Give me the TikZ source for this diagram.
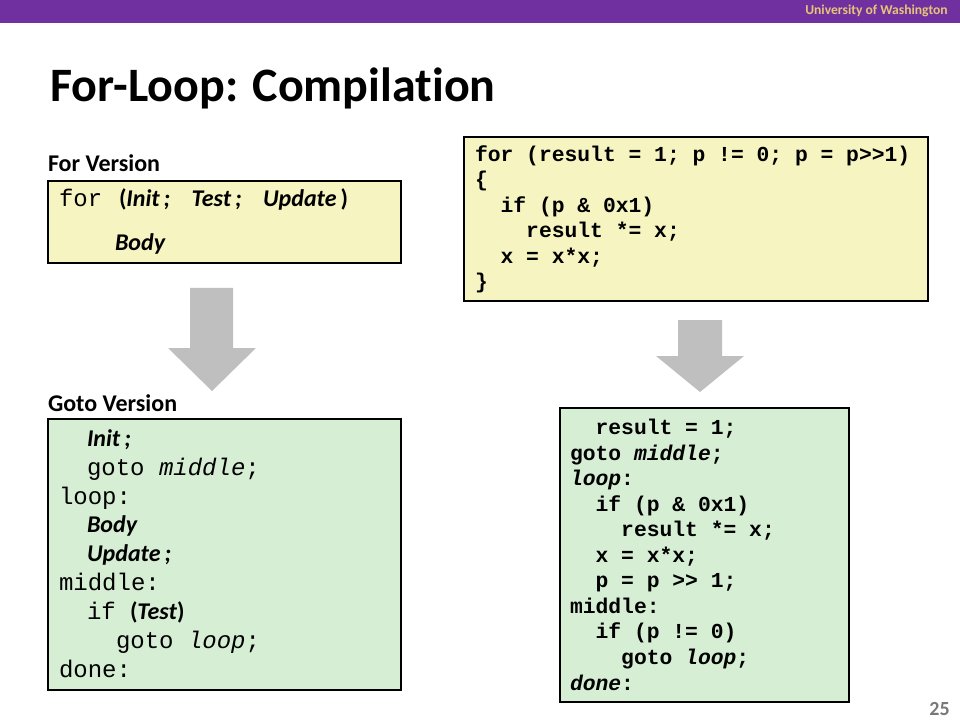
\documentclass[tikz,border=0pt]{standalone}
\usepackage{fontspec}
\setmainfont{Carlito}[Ligatures=NoCommon]
\newfontfamily\cour{Liberation Mono}
\definecolor{uwpurple}{RGB}{112,48,160}
\definecolor{uwgold}{RGB}{232,196,120}
\definecolor{codeyellow}{RGB}{246,244,192}
\definecolor{codegreen}{RGB}{214,238,212}
\definecolor{arrowgray}{RGB}{191,191,191}
\definecolor{pagegray}{RGB}{120,120,120}
\tikzset{
  txt/.style={anchor=base west, inner sep=0pt, outer sep=0pt},
  codeR/.style={txt, font=\cour\bfseries\fontsize{16}{16}\selectfont},
  codeL/.style={txt, font=\cour\fontsize{18}{18}\selectfont},
  calL/.style={txt, font=\bfseries\itshape\fontsize{18}{18}\selectfont},
  yellowbox/.style={fill=codeyellow, draw=black, line width=0.8pt},
  greenbox/.style={fill=codegreen, draw=black, line width=0.8pt},
  bigarrow/.style={fill=arrowgray, draw=none},
  heading/.style={txt, font=\bfseries\fontsize{18}{18}\selectfont}
}
\begin{document}
\begin{tikzpicture}[x=0.75pt,y=-0.75pt]
\useasboundingbox (0,0) rectangle (960,720);
\fill[white] (0,0) rectangle (960,720);
% header
\fill[uwpurple] (0,0) rectangle (960,23);
\node[anchor=base east, inner sep=0pt, text=uwgold, font=\bfseries\fontsize{10.2}{10.2}\selectfont] (uw) at (948,15) {University of Washington};
% title
\node[txt, font=\bfseries\fontsize{36}{36}\selectfont] (title) at (50,102) {For-Loop: Compilation};
% page number
\node[anchor=base east, inner sep=0pt, text=pagegray, font=\bfseries\fontsize{15}{15}\selectfont] (pg) at (950,715) {25};

% headings
\node[heading] (forlab) at (48,172) {For Version};
\node[heading] (gotolab) at (48,411) {Goto Version};

% boxes
\draw[yellowbox] (48,181) rectangle (401,263);
\draw[greenbox] (48,419) rectangle (401,690);
\draw[yellowbox] (464,137) rectangle (928,301);
\draw[greenbox] (560,408) rectangle (849,702);

% arrows
\draw[bigarrow] (190,288) -- (233,288) -- (233,348) -- (256,348) -- (212,391) -- (168,348) -- (190,348) -- cycle;
\draw[bigarrow] (678,320) -- (722,320) -- (722,356) -- (744,356) -- (700,392) -- (656,356) -- (678,356) -- cycle;

% for version
\node[codeL] (f1a) at (59,207) {for};
\node[txt, font=\bfseries\fontsize{18}{18}\selectfont] (f1b) at (119,207) {(\textit{Init\,;}\hspace{16pt}\textit{Test\,;}\hspace{16pt}\textit{Update\,})};
\node[calL] (f2) at (115,251) {Body};

% goto version
\node[calL] (g1) at (87,446) {Init\,;};
\node[codeL] (g2) at (87,475) {goto \textit{middle};};
\node[codeL] (g3) at (59,504) {loop:};
\node[calL] (g4) at (87,532) {Body};
\node[calL] (g5) at (87,561) {Update\,;};
\node[codeL] (g6) at (59,590) {middle:};
\node[codeL] (g7a) at (87,619) {if};
\node[txt, font=\bfseries\fontsize{18}{18}\selectfont] (g7b) at (130,619) {(\textit{Test})};
\node[codeL] (g8) at (116,648) {goto \textit{loop};};
\node[codeL] (g9) at (59,677) {done:};

% right for code
\node[codeR] (r1) at (475,162) {for (result = 1; p != 0; p = p>{}>1)};
\node[codeR] (r2) at (475,187) {\{};
\node[codeR] (r3) at (500.6,213) {if (p \& 0x1)};
\node[codeR] (r4) at (526.2,238) {result *= x;};
\node[codeR] (r5) at (500.6,264) {x = x*x;};
\node[codeR] (r6) at (475,289) {\}};

% right goto code
\node[codeR] (s1) at (595.6,434) {result = 1;};
\node[codeR] (s2) at (570,460) {goto \textit{middle};};
\node[codeR] (s3) at (570,485) {\textit{loop}:};
\node[codeR] (s4) at (595.6,511) {if (p \& 0x1)};
\node[codeR] (s5) at (621.2,536) {result *= x;};
\node[codeR] (s6) at (595.6,562) {x = x*x;};
\node[codeR] (s7) at (595.6,587) {p = p >{}> 1;};
\node[codeR] (s8) at (570,613) {middle:};
\node[codeR] (s9) at (595.6,638) {if (p != 0)};
\node[codeR] (s10) at (621.2,664) {goto \textit{loop};};
\node[codeR] (s11) at (570,690) {\textit{done}:};
\end{tikzpicture}
\end{document}
